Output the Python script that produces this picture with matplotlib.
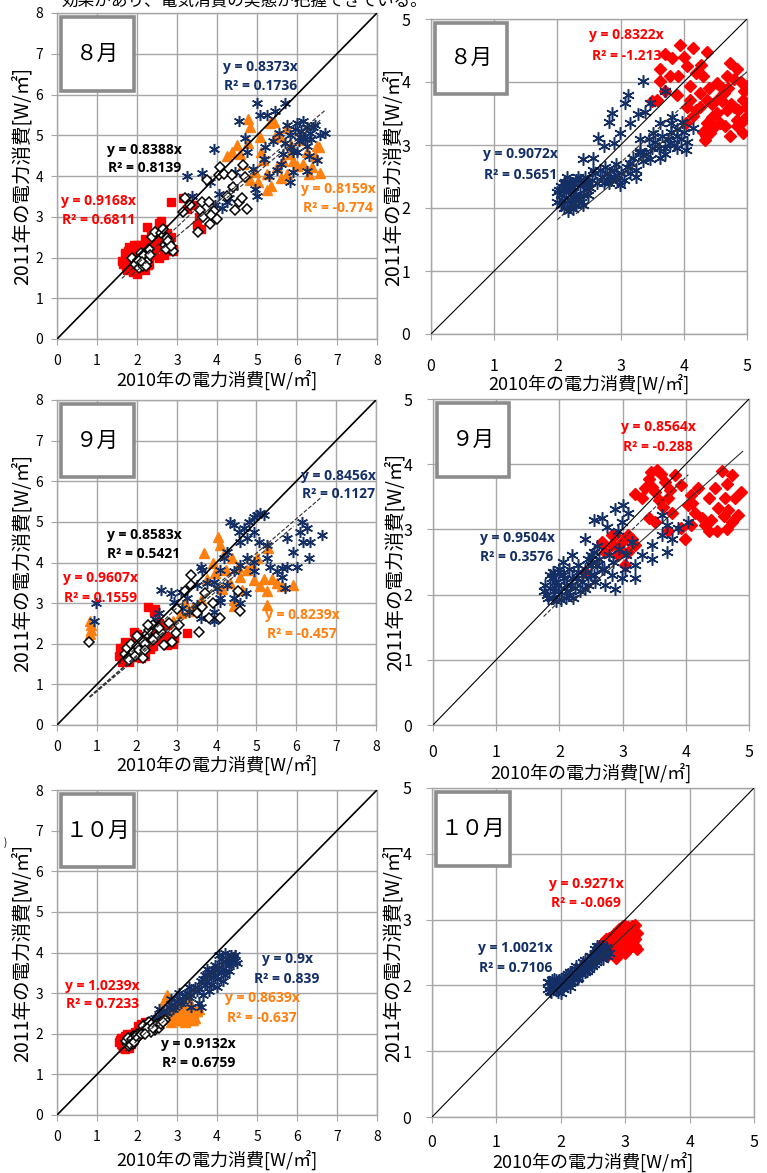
import matplotlib
matplotlib.use('Agg')
import matplotlib.pyplot as plt
from matplotlib.patches import Rectangle
import numpy as np

plt.rcParams['font.family'] = ['Noto Sans CJK JP', 'DejaVu Sans']

# ---------------- DATA ----------------
x_label = '2010年の電力消費[W/㎡]'
y_label = '2011年の電力消費[W/㎡]'
months = ['８月', '９月', '１０月']
top_text = '効果があり、電気消費の実態が把握できている。'

# Panel 1: August (left)
p1_red_x = [1.65,1.7,1.75,1.8,1.85,1.9,1.95,2.0,2.0,2.05,2.1,2.15,2.2,2.25,2.3,2.35,2.4,2.45,2.5,2.55,2.6,2.65,2.7,2.75,2.8,2.85,2.9,1.8,1.9,2.0,2.1,2.2,2.3,2.4,2.0,2.2,2.6,2.85,3.15,3.25,3.4,3.5,3.6,3.55,2.25,2.55,2.9,1.7,
            1.72,1.78,1.88,1.92,1.98,2.08,2.12,2.28,2.42,2.58,2.68,2.78,1.62,2.2,2.35,2.48]
p1_red_y = [1.85,1.95,1.7,2.05,1.8,2.2,1.9,1.6,2.3,2.0,1.75,2.1,1.9,2.35,2.0,2.15,2.4,2.25,2.5,2.0,2.55,2.7,2.35,2.6,2.3,2.5,2.15,2.25,1.65,1.95,2.3,1.7,1.85,2.05,2.1,2.2,2.9,3.35,3.45,3.2,3.3,2.8,2.7,3.0,2.75,2.85,2.2,2.1,
            1.78,2.15,1.98,2.3,1.72,2.22,1.9,1.82,2.15,2.25,2.05,2.45,1.92,2.45,2.6,2.35]
p1_blk_x = [1.87,1.95,2.05,2.1,2.15,2.2,2.25,2.3,2.15,2.37,2.45,2.6,2.66,2.74,2.83,2.91,2.7,2.8,3.16,3.2,3.33,3.53,3.58,3.62,3.75,3.79,3.83,3.92,4.04,4.08,4.18,4.37,4.41,4.45,4.54,4.62,4.64,4.7,4.74,3.65,3.85,4.25,4.0,
            2.02,2.12,2.22,2.32,2.72,2.78,2.86]
p1_blk_y = [2.0,1.85,1.75,2.1,1.8,1.95,1.9,2.2,2.05,2.5,2.62,2.6,2.7,2.47,2.22,2.15,2.3,2.35,3.12,3.45,3.3,2.63,3.16,3.37,3.9,3.37,2.83,3.14,4.02,4.22,4.05,4.02,3.74,3.16,3.37,3.45,4.26,3.98,3.18,3.0,3.05,3.5,2.95,
            1.95,1.88,1.78,2.05,2.2,2.4,2.28]
p1_org_x = [4.24,4.37,4.57,4.78,4.83,5.08,5.33,5.42,4.78,4.82,5.03,5.24,5.49,5.66,5.74,5.83,6.08,6.24,6.45,6.58,6.37,6.49,5.24,5.74,5.57,5.91,4.95,5.15,5.6,6.0,4.5,5.35,6.3,6.55,
            4.65,5.1,5.45,5.85,6.15]
p1_org_y = [4.5,4.6,4.55,5.4,5.2,4.95,5.3,5.33,4.8,3.9,3.86,3.66,4.23,4.38,4.06,4.55,4.88,4.6,4.48,4.07,4.23,4.73,4.04,5.19,4.98,4.38,4.1,4.4,3.95,4.25,4.75,3.75,4.05,4.7,
            4.3,4.6,4.95,4.75,4.3]
p1_nav_x = [3.25,3.38,3.63,3.83,3.92,4.04,4.12,4.24,4.41,4.54,4.7,4.74,4.9,4.95,4.99,5.07,5.24,5.45,5.7,5.41,5.66,5.82,6.0,6.16,6.33,6.58,6.7,6.24,6.49,6.24,5.82,5.49,5.18,5.9,6.08,6.41,4.45,5.0,5.55,6.1,6.3,5.9,5.3,5.7,6.0,6.2,4.3,3.95,
            5.95,6.05,6.15,6.25,5.75,5.85,6.35,6.45,5.6,5.2]
p1_nav_y = [4.0,3.5,4.08,3.86,4.66,3.55,3.22,3.37,3.74,5.35,4.94,4.58,4.17,3.68,5.79,5.5,5.5,5.6,5.79,4.86,4.53,5.0,5.3,5.35,5.06,5.0,5.05,4.74,4.4,4.13,3.86,4.15,4.41,4.6,4.95,5.2,4.1,3.5,5.05,5.1,4.5,4.1,4.0,4.8,4.6,4.9,3.45,3.3,
            5.15,4.85,4.95,5.2,5.25,4.7,4.9,5.25,4.3,4.7]
p1_slopes = {'red': 0.9168, 'blk': 0.8388, 'org': 0.8159, 'nav': 0.8373}
p1_r2 = {'red': '0.6811', 'blk': '0.8139', 'org': '-0.774', 'nav': '0.1736'}

# Panel 2: August (right)
p2_red_x = [3.94,4.15,4.36,3.81,4.05,3.62,3.78,3.91,4.2,3.62,3.57,3.89,4.1,4.28,3.7,4.73,4.84,4.52,4.63,4.94,4.36,4.2,4.36,4.52,4.68,4.84,5.0,4.94,4.84,4.33,4.42,4.58,4.15,4.04,4.73,5.0,4.68,4.26,4.1,4.95,4.45,4.6,4.8,4.9,4.5,4.7,4.3,4.05,3.5,
            4.4,4.55,4.75,4.85,4.65,4.45,4.25,4.9,4.98,4.35,4.6,4.8,3.7,4.0,4.3]
p2_red_y = [4.59,4.54,4.48,4.38,4.25,4.2,4.09,4.09,4.14,4.01,3.72,3.8,3.93,4.27,3.85,4.3,4.2,3.98,3.82,3.72,3.72,3.56,3.35,3.51,3.56,3.4,3.46,3.19,3.3,3.08,3.19,3.35,3.46,3.35,3.14,3.93,4.09,3.82,3.72,3.85,3.65,3.7,3.6,4.0,3.3,3.9,3.2,3.6,3.7,
            3.9,3.75,3.65,3.55,3.3,3.45,3.6,3.35,3.6,3.15,3.9,4.05,4.45,4.4,4.1]
p2_nav_x = [3.36,3.12,3.07,3.47,3.71,2.86,2.81,3.15,3.28,3.39,2.99,2.65,2.73,2.89,3.31,3.52,3.62,3.81,3.97,4.15,4.04,2.41,2.57,2.57,2.94,2.99,3.15,3.31,3.47,3.62,3.78,3.89,3.25,2.83,2.73,2.41,
            2.05,2.1,2.15,2.2,2.25,2.3,2.35,2.4,2.1,2.2,2.05,2.3,2.45,2.5,2.15,2.25,2.4,2.0,2.55,2.6,2.7,2.75,2.85,2.9,2.95,3.0,3.1,3.2,3.25,3.3,3.4,3.5,3.6,3.7,3.75,3.8,3.85,3.9,3.95,4.05,
            2.02,2.08,2.12,2.18,2.22,2.28,2.32,2.38,2.42,2.48,2.06,2.14,2.24,2.34,2.44,2.0,2.1,2.2,2.3,2.16,2.26,2.36,2.52,2.62,2.68,2.78,2.82,2.92,3.05,3.15,
            3.55,3.65,3.7,3.8,3.9,4.0,3.45,3.35]
p2_nav_y = [4.01,3.8,3.67,3.67,3.85,3.51,3.37,3.35,3.49,3.53,3.19,3.11,2.98,3.03,3.09,3.19,3.35,3.45,3.37,3.27,2.92,2.77,2.79,2.61,2.53,2.37,2.71,2.87,2.77,2.79,3.03,3.14,2.5,2.5,2.4,2.4,
            2.2,2.3,2.1,2.4,2.25,2.05,2.35,2.2,2.0,2.15,2.35,2.45,2.3,2.4,2.5,1.98,2.05,2.1,2.45,2.55,2.5,2.65,2.45,2.6,2.45,2.55,2.65,2.8,2.6,2.9,2.85,2.95,2.95,2.85,3.1,3.2,3.0,3.25,3.1,3.05,
            2.28,2.12,2.42,2.02,2.32,2.18,2.5,2.1,2.42,2.2,2.05,2.25,2.4,2.15,2.5,2.25,2.4,2.28,2.22,1.95,2.08,2.45,2.32,2.4,2.6,2.55,2.4,2.7,2.45,2.55,
            3.05,3.15,2.95,3.35,2.95,3.2,3.1,2.75]
p2_slopes = {'red': 0.8322, 'nav': 0.9072}
p2_r2 = {'red': '-1.213', 'nav': '0.5651'}

# Panel 3: September (left)
p3_red_x = [1.55,1.6,1.65,1.7,1.75,1.8,1.85,1.9,1.95,2.0,2.05,2.1,2.15,2.2,2.25,2.3,2.35,2.4,2.5,2.6,2.7,2.77,2.93,2.77,2.43,2.27,2.45,3.27,1.93,1.65,1.8,2.0,2.2,2.4,2.6,2.9,1.7,2.1,2.55,
            1.58,1.68,1.78,1.88,1.98,2.08,2.18,2.32,1.62,1.72]
p3_red_y = [1.7,1.85,1.6,1.95,1.75,1.65,2.0,1.8,2.1,1.7,1.9,2.05,1.85,2.2,2.0,2.15,2.3,1.95,2.1,2.3,2.2,2.46,2.13,1.97,2.79,2.9,2.85,2.26,2.3,1.6,1.55,2.25,1.7,2.4,2.1,2.0,2.05,1.65,2.5,
            1.9,1.78,1.85,1.68,1.95,1.8,2.0,1.88,1.55,1.72]
p3_blk_x = [0.81,1.7,1.75,1.8,1.85,1.9,1.95,2.0,2.05,2.1,2.15,2.2,2.25,2.3,2.4,2.5,2.6,2.68,2.89,2.98,2.27,2.4,3.35,3.37,3.56,3.64,3.81,4.1,4.6,3.9,3.7,3.2,3.0,2.8,2.55,1.8,2.0,2.2,4.55,3.5,3.05]
p3_blk_y = [2.05,1.75,1.9,1.65,2.0,1.8,1.7,1.95,1.85,2.1,1.65,2.0,2.25,2.35,2.45,2.2,2.3,1.97,2.05,2.26,2.46,2.1,3.69,3.45,2.3,2.91,2.63,2.63,2.8,3.0,3.25,3.3,2.85,2.5,2.4,1.6,2.2,1.85,3.3,2.75,2.45]
p3_org_x = [0.83,0.85,0.86,0.84,2.9,3.1,3.3,3.4,3.6,3.68,3.91,4.04,4.08,4.2,4.25,4.35,4.38,4.45,4.45,4.6,4.63,4.77,4.93,5.02,5.1,5.18,5.27,5.27,5.3,5.52,5.64,5.93,3.75,4.15,3.95,4.55,4.9,5.4,3.2]
p3_org_y = [2.25,2.35,2.45,2.55,2.55,2.75,2.8,2.91,3.07,4.23,4.0,4.64,4.43,4.2,3.81,3.5,4.12,2.93,3.07,3.65,3.32,3.81,3.57,4.12,3.41,3.6,3.3,2.95,4.36,3.5,3.41,3.45,3.6,3.35,3.75,3.9,3.95,3.6,3.0]
p3_nav_x = [0.97,0.93,2.6,2.85,3.1,3.27,2.93,3.14,3.31,3.6,3.64,3.52,3.77,3.93,4.02,4.1,4.18,4.27,4.35,4.43,4.56,4.68,4.81,4.93,5.02,5.1,5.18,4.93,5.06,4.77,4.6,4.77,4.93,4.6,4.43,4.27,4.1,4.43,4.6,4.73,4.93,5.27,5.27,5.35,5.52,5.64,5.77,5.93,6.1,6.14,6.18,6.27,6.35,6.64,6.31,6.02,5.77,5.64,5.73,3.93,3.6,3.93,4.1,3.52,2.45,2.55]
p3_nav_y = [3.0,2.55,3.33,3.24,3.28,3.12,3.04,2.87,2.79,3.9,3.82,3.45,3.49,3.53,3.37,3.82,4.1,4.27,5.0,4.93,4.76,4.84,5.0,5.13,5.17,5.21,5.17,4.76,4.51,4.6,4.51,4.1,4.02,3.94,3.78,3.45,3.12,3.12,3.0,3.24,3.78,4.43,4.1,3.9,3.78,3.86,4.6,4.27,4.76,5.0,4.51,4.84,4.51,4.68,4.1,3.9,3.9,3.65,3.37,2.79,2.63,2.55,3.04,2.96,2.6,2.75]
p3_slopes = {'red': 0.9607, 'blk': 0.8583, 'org': 0.8239, 'nav': 0.8456}
p3_r2 = {'red': '0.1559', 'blk': '0.5421', 'org': '-0.457', 'nav': '0.1127'}

# Panel 4: September (right)
p4_red_x = [3.54,3.41,3.67,3.35,3.51,3.2,3.83,3.93,3.72,3.57,3.3,3.46,3.64,3.78,4.57,4.73,4.65,4.46,4.88,4.78,4.62,4.2,4.09,4.51,4.36,4.04,4.25,4.09,3.93,4.36,4.49,4.65,4.83,4.73,4.67,4.3,3.99,3.72,3.51,3.41,2.88,2.99,3.09,3.2,2.83,2.72,2.93,3.09,3.04,2.83,2.4,2.67,
            3.6,3.45,3.75,4.15,4.4,4.6,4.1,2.95,3.15]
p4_red_y = [3.91,3.78,3.73,3.63,3.58,3.55,3.83,3.68,3.48,3.45,3.48,3.65,3.35,3.25,3.89,3.83,3.7,3.63,3.58,3.48,3.48,3.63,3.53,3.33,3.48,3.38,3.17,3.07,3.02,2.97,2.97,3.0,3.22,3.12,3.3,3.07,2.86,2.97,3.12,3.17,2.91,2.81,2.91,2.76,2.76,2.66,2.61,2.66,2.45,2.91,2.35,2.81,
            3.85,3.88,3.6,3.25,3.15,3.2,3.4,2.72,2.85]
p4_nav_x = [1.8,1.85,1.9,1.95,2.0,2.05,2.1,2.15,2.2,1.85,1.95,2.0,2.1,2.25,2.3,1.75,2.05,2.15,2.35,2.4,2.45,2.5,2.55,2.6,
            2.4,2.54,2.67,2.75,2.88,3.01,3.09,2.99,2.93,2.2,2.3,2.51,2.67,2.83,2.99,3.2,3.3,3.46,3.62,3.7,3.46,3.78,3.88,4.04,3.7,3.62,3.2,3.04,2.88,2.72,2.56,2.4,
            1.78,1.82,1.88,1.92,1.98,2.02,2.08,2.12,2.18,2.22,1.9,2.0,2.28,2.32,2.38,2.45,2.5,2.55,2.62,2.7,2.78,2.85,2.95,3.05,3.15,2.6,2.5]
p4_nav_y = [2.0,2.1,1.95,2.2,2.05,2.3,2.15,2.0,2.25,2.3,1.9,2.35,1.95,2.1,2.35,2.05,2.5,2.4,2.2,2.4,2.55,2.3,2.65,2.45,
            2.86,3.14,3.17,3.04,3.32,3.37,3.25,3.12,2.97,2.6,2.45,2.5,2.4,2.3,2.25,2.45,2.6,2.76,2.91,2.66,2.55,2.86,3.02,3.12,3.07,3.22,2.25,2.4,2.09,2.14,2.19,2.09,
            2.15,1.95,2.25,2.05,2.15,1.92,2.25,2.05,2.15,1.95,2.35,2.4,2.25,2.05,2.3,2.15,2.45,2.3,2.55,2.4,2.6,2.5,2.7,2.6,2.8,2.75,2.6]
p4_slopes = {'red': 0.8564, 'nav': 0.9504}
p4_r2 = {'red': '-0.288', 'nav': '0.3576'}

# Panel 5: October (left)
p5_red_x = [1.6,1.65,1.7,1.7,1.75,1.8,1.65,1.75,1.85,1.9,1.6,1.8,2.05,2.1,2.15,2.0,2.2,1.95,2.1,1.55,
            1.62,1.68,1.72,1.78,1.82,1.88,1.58,1.7,1.9,2.12,2.18,2.02]
p5_red_y = [1.75,1.85,1.7,1.95,1.8,1.9,1.65,2.0,1.75,1.85,1.9,1.65,2.1,2.25,2.15,2.0,2.3,2.05,2.0,1.8,
            1.72,1.82,1.92,1.7,1.82,1.95,1.85,1.62,2.0,2.12,2.22,2.2]
p5_blk_x = [1.75,1.8,1.85,1.9,1.95,2.0,2.05,2.1,2.2,2.3,2.4,2.5,2.6,2.7,2.3,2.15,1.8,2.45,2.55,2.0,1.9,2.35,
            1.72,1.78,1.82,1.88,1.92,1.98,2.1,2.25,2.4,2.6,2.65,2.2]
p5_blk_y = [1.75,1.85,1.8,1.95,1.85,2.0,1.95,2.05,2.1,2.15,2.2,2.25,2.3,2.35,2.3,2.2,1.7,2.1,2.15,1.9,1.75,2.05,
            1.82,1.9,1.75,1.88,1.8,1.95,2.0,2.15,2.15,2.25,2.3,2.0]
p5_org_x = [2.6,2.65,2.7,2.75,2.8,2.85,2.9,2.95,3.0,3.05,3.1,3.15,3.2,3.25,3.3,3.35,3.4,3.45,3.5,3.0,3.1,3.2,2.85,3.3,2.7,3.55,3.35,2.5,
            2.75,2.9,3.0,3.1,3.2,3.3,3.4,3.45,3.15,3.25,3.05,2.95,3.35,2.8,2.65]
p5_org_y = [2.55,2.7,2.85,2.95,2.6,2.45,2.75,2.55,2.4,2.65,2.35,2.5,2.3,2.45,2.6,2.35,2.5,2.4,2.55,2.8,2.55,2.7,2.3,2.8,2.5,2.6,2.7,2.4,
            2.55,2.45,2.6,2.45,2.55,2.4,2.35,2.55,2.35,2.65,2.5,2.35,2.55,2.75,2.6]
p5_nav_x = [2.3,2.4,2.5,2.6,2.7,2.8,2.9,3.0,3.1,3.2,3.3,3.4,3.5,3.6,3.7,3.8,3.9,4.0,4.1,4.2,4.3,4.4,4.5,4.05,4.2,4.35,3.95,3.75,4.15,3.55,3.35,3.3,3.05,2.85,4.45,3.85,4.0,4.3,2.55,3.6,
            2.25,2.35,2.45,2.55,2.65,2.75,2.85,2.95,3.05,3.15,3.25,3.35,3.45,3.55,3.65,3.75,3.85,3.95,4.05,4.15,4.25,4.35,4.45,4.1,3.9,3.7,4.0,3.8,3.65,4.2]
p5_nav_y = [2.2,2.35,2.3,2.5,2.45,2.65,2.6,2.8,2.75,2.95,2.9,3.1,3.05,3.3,3.2,3.45,3.4,3.6,3.5,3.8,3.7,3.9,3.75,3.95,4.0,3.95,3.7,3.6,3.3,2.75,2.65,3.15,3.0,2.85,3.8,3.2,3.15,3.55,2.6,2.65,
            2.3,2.2,2.4,2.35,2.55,2.5,2.7,2.65,2.85,2.8,3.0,2.95,3.15,3.1,3.35,3.3,3.5,3.45,3.65,3.6,3.85,3.75,3.95,3.85,3.6,3.45,3.35,3.05,2.95,3.45]
p5_slopes = {'red': 1.0239, 'blk': 0.9132, 'org': 0.8639, 'nav': 0.9}
p5_r2 = {'red': '0.7233', 'blk': '0.6759', 'org': '-0.637', 'nav': '0.839'}

# Panel 6: October (right)
p6_red_x = [2.58,2.62,2.65,2.68,2.7,2.72,2.75,2.78,2.8,2.82,2.85,2.88,2.9,2.92,2.95,2.97,3.0,3.02,3.05,3.08,3.1,3.12,3.15,3.18,3.0,3.1,2.85,3.15,
            2.6,2.65,2.7,2.75,2.8,2.85,2.9,2.95,3.0,3.05,3.1,3.15,3.18,2.9,2.95,3.05,2.7,2.78,3.12,2.98]
p6_red_y = [2.55,2.62,2.5,2.68,2.58,2.45,2.72,2.62,2.5,2.78,2.68,2.55,2.85,2.72,2.6,2.9,2.8,2.65,2.88,2.75,2.6,2.85,2.7,2.55,2.5,2.8,2.42,2.92,
            2.58,2.65,2.52,2.6,2.7,2.8,2.6,2.75,2.9,2.7,2.9,2.6,2.8,2.5,2.88,2.55,2.7,2.55,2.68,2.65]
p6_nav_x = [1.8,1.82,1.85,1.88,1.9,1.92,1.95,1.98,2.0,2.03,2.05,2.08,2.1,2.13,2.15,2.18,2.2,2.23,2.25,2.28,2.3,2.33,2.35,2.38,2.4,2.43,2.45,2.48,2.5,2.53,2.55,2.58,2.6,2.63,2.65,2.7,2.72,2.75,2.0,1.95,2.15,
            1.8,1.83,1.86,1.9,1.93,1.97,2.01,2.04,2.07,2.11,2.14,2.17,2.21,2.24,2.27,2.31,2.34,2.37,2.41,2.44,2.47,2.51,2.54,2.57,2.61,2.64,2.68,2.71,2.66,2.56]
p6_nav_y = [1.95,2.05,1.9,2.02,1.95,2.08,1.9,2.0,2.1,1.95,2.05,2.15,2.0,2.1,2.2,2.05,2.15,2.25,2.1,2.2,2.3,2.18,2.28,2.38,2.22,2.32,2.45,2.3,2.4,2.55,2.35,2.48,2.6,2.42,2.52,2.58,2.45,2.5,1.88,2.05,1.98,
            2.05,1.92,2.08,2.1,1.93,2.08,2.0,2.12,2.0,2.18,2.03,2.2,2.1,2.3,2.12,2.25,2.35,2.2,2.35,2.25,2.45,2.33,2.45,2.55,2.45,2.6,2.5,2.55,2.4,2.6]
p6_slopes = {'red': 0.9271, 'nav': 1.0021}
p6_r2 = {'red': '-0.069', 'nav': '0.7106'}

# ---------------- STYLE ----------------
W, H = 767, 1173
NAVY = '#142F66'
RED = '#FF0000'
ORANGE = '#FF7F0F'
BLACK = '#000000'
GRID = '#A6A6A6'

fig = plt.figure(figsize=(W / 100, H / 100), dpi=100)


def add_axes_px(l, t, r, b):
    return fig.add_axes([l / W, 1 - b / H, (r - l) / W, (b - t) / H])


def style_axes(ax, vmax, right, xlab_y, ylab_x, xpad=None):
    ax.set_xlim(0, vmax)
    ax.set_ylim(0, vmax)
    ax.set_xticks(range(vmax + 1))
    ax.set_yticks(range(vmax + 1))
    ax.grid(True, color=GRID, lw=1.0)
    ax.set_axisbelow(True)
    for s in ax.spines.values():
        s.set_color(GRID)
        s.set_linewidth(1.0)
    fs = 11.5 if right else 10
    if xpad is None:
        xpad = 13 if right else 7
    ax.tick_params(axis='x', length=4, color=GRID, labelsize=fs, pad=xpad)
    ax.tick_params(axis='y', length=4, color=GRID, labelsize=fs, pad=11 if right else 6)
    ax.text(0.5, xlab_y, x_label, transform=ax.transAxes, ha='center', va='center', fontsize=13)
    ax.text(ylab_x, 0.5, y_label, transform=ax.transAxes, ha='center', va='center',
            rotation=90, fontsize=14)
    ax.axline((0, 0), slope=1, color='black', lw=1.2 if not right else 0.8, zorder=6)


def month_box(ax, text):
    r = Rectangle((0.012, 0.762), 0.23, 0.226, transform=ax.transAxes, facecolor='white',
                  edgecolor='#8C8C8C', lw=2.6, zorder=8)
    ax.add_patch(r)
    ax.text(0.127, 0.875, text, transform=ax.transAxes, ha='center', va='center',
            fontsize=15.5, zorder=9)


def series(ax, x, y, kind, right=False):
    if kind == 'red':
        ax.plot(x, y, ls='none', marker='s', ms=6, mfc=RED, mec=RED, zorder=3)
    elif kind == 'redD':
        ax.plot(x, y, ls='none', marker='D', ms=5.8, mfc=RED, mec=RED, zorder=3)
    elif kind == 'blk':
        ax.plot(x, y, ls='none', marker='D', ms=4.8, mfc='white', mec=BLACK, mew=1.1, zorder=5)
    elif kind == 'org':
        ax.plot(x, y, ls='none', marker='^', ms=7, mfc=ORANGE, mec=ORANGE, zorder=3)
    elif kind == 'nav':
        ax.plot(x, y, ls='none', marker=(6, 2, 0), ms=9 if right else 8, mfc=NAVY,
                mec=NAVY, mew=1.1, zorder=4)


def trend(ax, x, k, ls='--'):
    xs = np.array([min(x), max(x)])
    ax.plot(xs, k * xs, color='#303030', lw=0.8, ls=ls, zorder=6)


def eq(ax, x, y, k, r2, color, dy):
    kw = dict(ha='center', va='center', fontsize=10, fontweight='bold', color=color,
              family=['Open Sans', 'DejaVu Sans'], zorder=9)
    ax.text(x, y, 'y = {}x'.format(k), **kw)
    ax.text(x, y - dy, 'R² = {}'.format(r2), **kw)


# ---------------- PANEL 1 ----------------
ax1 = add_axes_px(57, 13, 377, 339)
style_axes(ax1, 8, False, -0.126, -0.109)
series(ax1, p1_red_x, p1_red_y, 'red')
series(ax1, p1_org_x, p1_org_y, 'org')
series(ax1, p1_nav_x, p1_nav_y, 'nav')
series(ax1, p1_blk_x, p1_blk_y, 'blk')
trend(ax1, p1_red_x, p1_slopes['red'])
trend(ax1, p1_blk_x, p1_slopes['blk'])
trend(ax1, p1_org_x, p1_slopes['org'])
trend(ax1, p1_nav_x, p1_slopes['nav'])
month_box(ax1, months[0])
eq(ax1, 5.08, 6.67, p1_slopes['nav'], p1_r2['nav'], NAVY, 0.46)
eq(ax1, 2.18, 4.64, p1_slopes['blk'], p1_r2['blk'], BLACK, 0.45)
eq(ax1, 1.03, 3.39, p1_slopes['red'], p1_r2['red'], RED, 0.47)
eq(ax1, 7.03, 3.68, p1_slopes['org'], p1_r2['org'], ORANGE, 0.47)

# ---------------- PANEL 2 ----------------
ax2 = add_axes_px(431, 19, 747, 334)
style_axes(ax2, 5, True, -0.159, -0.12)
series(ax2, p2_red_x, p2_red_y, 'redD', True)
series(ax2, p2_nav_x, p2_nav_y, 'nav', True)
trend(ax2, [2.3, max(p2_red_x)], p2_slopes['red'], ls='-')
trend(ax2, p2_nav_x, p2_slopes['nav'])
month_box(ax2, months[0])
eq(ax2, 3.09, 4.75, p2_slopes['red'], p2_r2['red'], RED, 0.34)
eq(ax2, 1.41, 2.86, p2_slopes['nav'], p2_r2['nav'], NAVY, 0.34)

# ---------------- PANEL 3 ----------------
ax3 = add_axes_px(57, 400, 376, 725)
style_axes(ax3, 8, False, -0.123, -0.109)
series(ax3, p3_red_x, p3_red_y, 'red')
series(ax3, p3_org_x, p3_org_y, 'org')
series(ax3, p3_nav_x, p3_nav_y, 'nav')
series(ax3, p3_blk_x, p3_blk_y, 'blk')
trend(ax3, p3_red_x, p3_slopes['red'])
trend(ax3, p3_blk_x, p3_slopes['blk'])
trend(ax3, p3_org_x, p3_slopes['org'])
trend(ax3, p3_nav_x, p3_slopes['nav'])
month_box(ax3, months[1])
eq(ax3, 7.05, 6.13, p3_slopes['nav'], p3_r2['nav'], NAVY, 0.44)
eq(ax3, 2.18, 4.68, p3_slopes['blk'], p3_r2['blk'], BLACK, 0.47)
eq(ax3, 1.08, 3.62, p3_slopes['red'], p3_r2['red'], RED, 0.49)
eq(ax3, 6.15, 2.71, p3_slopes['org'], p3_r2['org'], ORANGE, 0.47)

# ---------------- PANEL 4 ----------------
ax4 = add_axes_px(433, 399, 749, 725)
style_axes(ax4, 5, True, -0.148, -0.12, xpad=10)
series(ax4, p4_nav_x, p4_nav_y, 'nav', True)
series(ax4, p4_red_x, p4_red_y, 'redD', True)
trend(ax4, [2.2, 4.9], p4_slopes['red'], ls='-')
trend(ax4, p4_nav_x, p4_slopes['nav'])
month_box(ax4, months[1])
eq(ax4, 3.56, 4.57, p4_slopes['red'], p4_r2['red'], RED, 0.31)
eq(ax4, 1.33, 2.87, p4_slopes['nav'], p4_r2['nav'], NAVY, 0.30)

# ---------------- PANEL 5 ----------------
ax5 = add_axes_px(57, 790, 377, 1115)
style_axes(ax5, 8, False, -0.138, -0.109)
series(ax5, p5_red_x, p5_red_y, 'red')
series(ax5, p5_org_x, p5_org_y, 'org')
series(ax5, p5_nav_x, p5_nav_y, 'nav')
series(ax5, p5_blk_x, p5_blk_y, 'blk')
trend(ax5, p5_red_x, p5_slopes['red'])
trend(ax5, p5_blk_x, p5_slopes['blk'])
trend(ax5, p5_org_x, p5_slopes['org'])
trend(ax5, p5_nav_x, p5_slopes['nav'])
month_box(ax5, months[2])
eq(ax5, 5.75, 3.84, p5_slopes['nav'], p5_r2['nav'], NAVY, 0.49)
eq(ax5, 1.13, 3.18, p5_slopes['red'], p5_r2['red'], RED, 0.45)
eq(ax5, 5.13, 2.88, p5_slopes['org'], p5_r2['org'], ORANGE, 0.49)
eq(ax5, 3.53, 1.75, p5_slopes['blk'], p5_r2['blk'], BLACK, 0.47)

# ---------------- PANEL 6 ----------------
ax6 = add_axes_px(432, 788, 754, 1117)
style_axes(ax6, 5, True, -0.136, -0.12, xpad=8)
series(ax6, p6_red_x, p6_red_y, 'redD', True)
series(ax6, p6_nav_x, p6_nav_y, 'nav', True)
trend(ax6, [2.5, 3.15], p6_slopes['red'], ls='-')
month_box(ax6, months[2])
eq(ax6, 2.39, 3.54, p6_slopes['red'], p6_r2['red'], RED, 0.29)
eq(ax6, 1.30, 2.57, p6_slopes['nav'], p6_r2['nav'], NAVY, 0.30)

# cut-off text at the very top and a stray mark
fig.text(0.08, 1 - 1 / H, top_text, ha='left', va='center', fontsize=12)
fig.text(5 / W, 1 - 843 / H, ')', ha='center', va='center', fontsize=7)

fig.savefig('out.png', dpi=100)
